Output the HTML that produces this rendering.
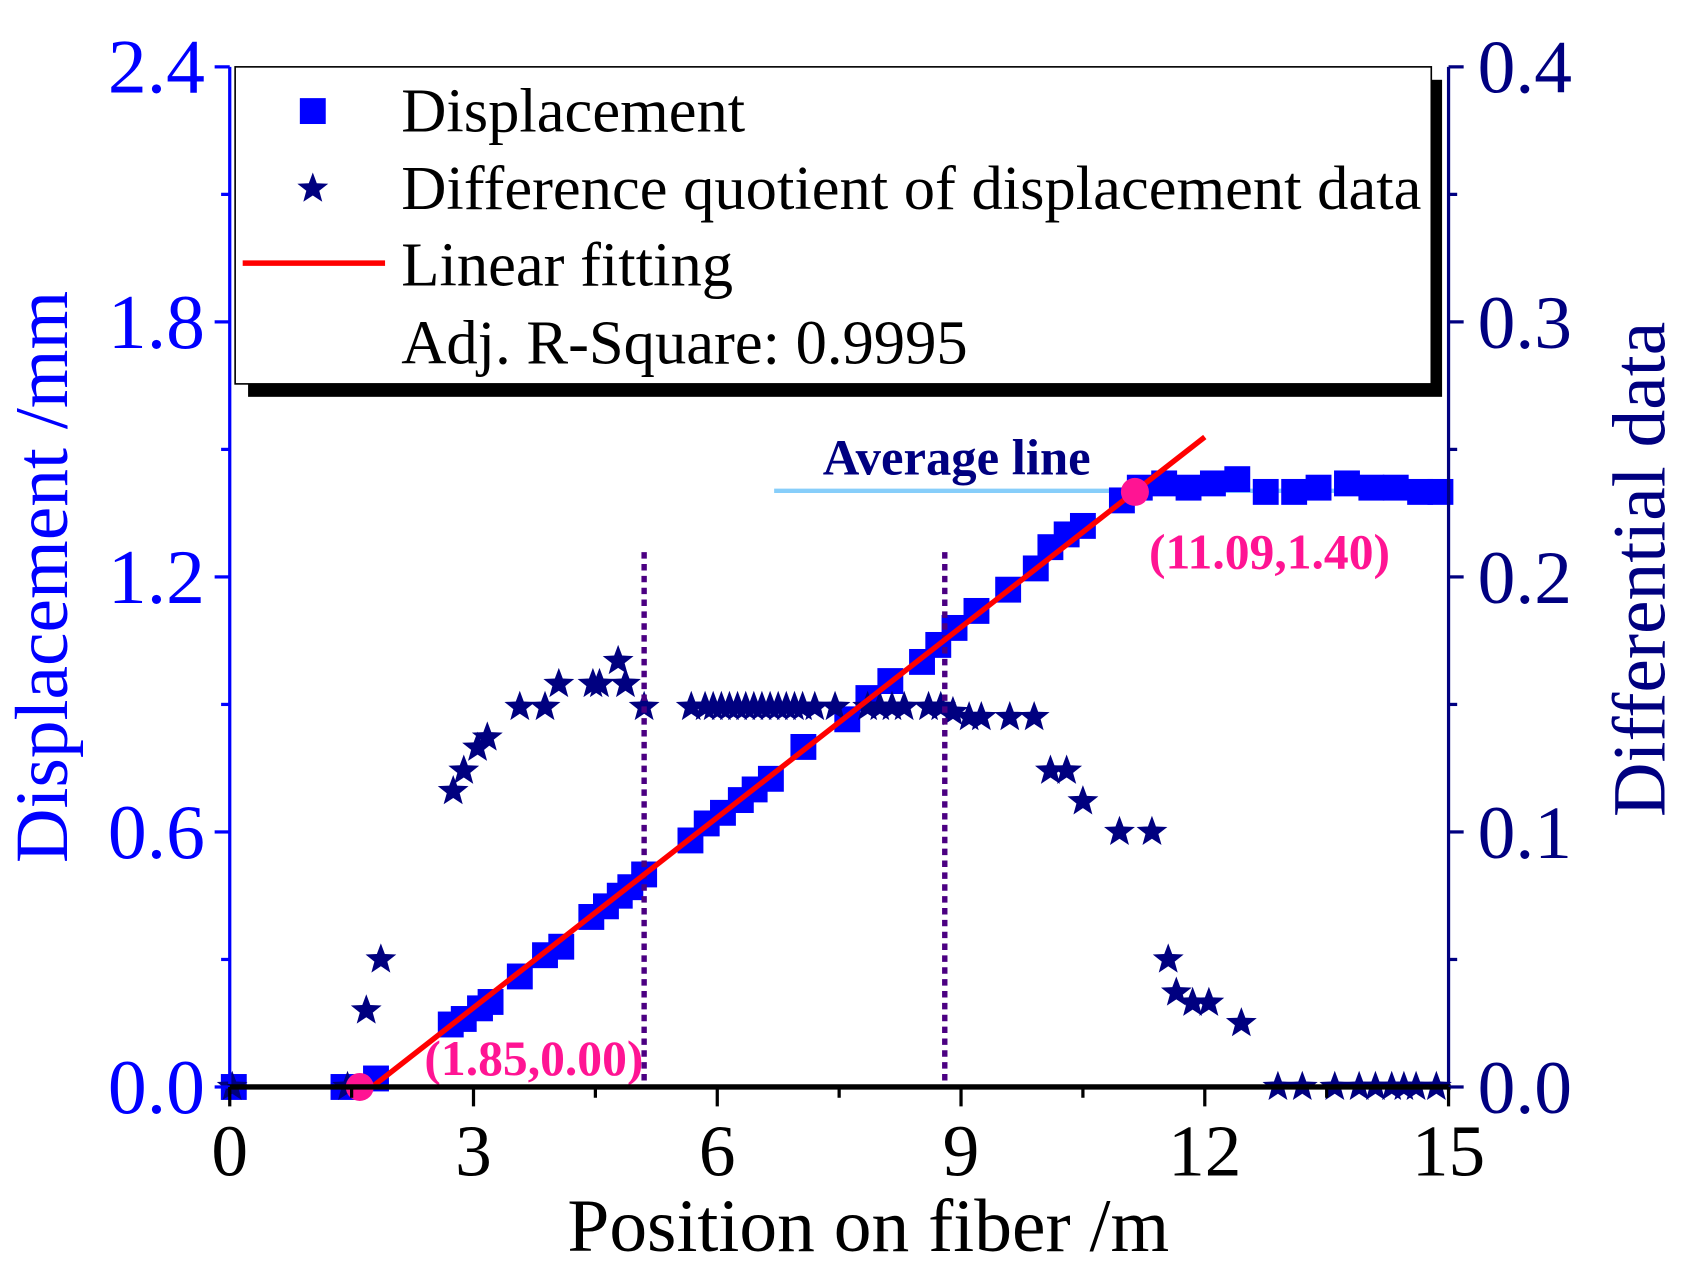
<!DOCTYPE html>
<html><head><meta charset="utf-8"><style>
html,body{margin:0;padding:0;background:#fff;}
svg{display:block;font-family:"Liberation Serif",serif;}
</style></head><body>
<svg id="chart" width="1688" height="1280" viewBox="0 0 1565 1187" preserveAspectRatio="none" xmlns="http://www.w3.org/2000/svg">
<g id="marks"></g>
<g id="axes"></g>
<g id="legend"></g>
</svg>
<script>
const dispX=[0.05,1.4,1.8,2.72,2.88,3.08,3.21,3.57,3.88,4.08,4.45,4.63,4.8,4.93,5.1,5.67,5.87,6.07,6.29,6.46,6.66,7.06,7.6,7.86,8.13,8.52,8.72,8.92,9.19,9.58,9.92,10.1,10.3,10.5,10.98,11.2,11.5,11.8,12.1,12.4,12.75,13.1,13.4,13.75,14.05,14.35,14.65,14.9];
const dispY=[0,0,0.02,0.147,0.16,0.185,0.2,0.26,0.31,0.33,0.4,0.425,0.45,0.47,0.5,0.58,0.62,0.645,0.675,0.7,0.725,0.8,0.865,0.915,0.955,1.0,1.04,1.08,1.12,1.17,1.22,1.27,1.3,1.32,1.38,1.41,1.42,1.41,1.42,1.43,1.40,1.40,1.41,1.42,1.41,1.41,1.40,1.40];
const diffX=[0.03,1.45,1.68,1.86,2.75,2.88,3.05,3.17,3.57,3.88,4.05,4.47,4.55,4.78,4.87,5.1,5.68,5.85,5.95,6.05,6.15,6.25,6.35,6.45,6.55,6.65,6.75,6.85,6.95,7.05,7.2,7.45,7.85,8.0,8.15,8.3,8.6,8.75,8.9,9.1,9.25,9.6,9.9,10.1,10.3,10.5,10.95,11.35,11.55,11.65,11.85,12.05,12.45,12.9,13.2,13.6,13.9,14.1,14.3,14.45,14.6,14.85];
const diffY=[0,0,0.03,0.05,0.116,0.124,0.133,0.137,0.149,0.149,0.158,0.158,0.158,0.167,0.158,0.149,0.149,0.149,0.149,0.149,0.149,0.149,0.149,0.149,0.149,0.149,0.149,0.149,0.149,0.149,0.149,0.149,0.149,0.149,0.149,0.149,0.149,0.149,0.147,0.145,0.145,0.145,0.145,0.124,0.124,0.112,0.1,0.1,0.05,0.037,0.033,0.033,0.025,0,0,0,0,0,0,0,0,0];
const fitRange=[1.75,12.0];
const fitSlope=[0.1492];
const fitPoints=[[1.6,0,"(1.85,0.00)"],[11.14,1.40,"(11.09,1.40)"]];
const avgLine=[6.7,15,1.40];
const vLines=[5.1,8.8];
const xTicks=[0,3,6,9,12,15];
const yTicks=[0,0.6,1.2,1.8,2.4];
const y2Ticks=[0,0.1,0.2,0.3,0.4];

const NS="http://www.w3.org/2000/svg";
const X0=213,X1=1343,Y0=1008,Y1=62;
const sx=v=>X0+(v-0)/15*(X1-X0);
const sy=v=>Y0-(v/2.4)*(Y0-Y1);
const sy2=v=>Y0-(v/0.4)*(Y0-Y1);
function mk(tag,attrs,parent){const e=document.createElementNS(NS,tag);for(const k in attrs)e.setAttribute(k,attrs[k]);parent.appendChild(e);return e;}
const marks=document.getElementById('marks'),axes=document.getElementById('axes'),leg=document.getElementById('legend');
function starPath(cx,cy,r){let d="";for(let i=0;i<10;i++){const a=-Math.PI/2+i*Math.PI/5;const rr=i%2?r*0.42:r;d+=(i?"L":"M")+(cx+rr*Math.cos(a)).toFixed(1)+","+(cy+rr*Math.sin(a)).toFixed(1);}return d+"Z";}

let al=mk('line',{x1:sx(avgLine[0]),x2:sx(avgLine[1]),y1:sy(avgLine[2])-1,y2:sy(avgLine[2])-1,stroke:'#87CEFA','stroke-width':4},marks);


let at=mk('text',{x:887,y:440,'text-anchor':'middle','font-size':47,'font-weight':'bold',fill:'#000080'},marks);at.textContent="Average line";


dispX.forEach((x,i)=>{const r=mk('rect',{x:sx(x)-12,y:sy(dispY[i])-12,width:24,height:24,fill:'#0000FF'},marks);

});
diffX.forEach((x,i)=>{const p=mk('path',{d:starPath(sx(x),sy2(diffY[i]),15),fill:'#000080'},marks);

});
vLines.forEach(v=>{const l=mk('line',{x1:sx(v),x2:sx(v),y1:512,y2:1005,stroke:'#4B0082','stroke-width':5,'stroke-dasharray':'6,5'},marks);

});
const fl=mk('line',{x1:sx(fitRange[0]),y1:sy(0),x2:sx(fitRange[1]),y2:sy(fitSlope[0]*(fitRange[1]-fitRange[0])),stroke:'#FF0000','stroke-width':5},marks);


fitPoints.forEach((p,i)=>{const c=mk('circle',{cx:sx(p[0]),cy:sy(p[1]),r:13,fill:'#FF1493'},marks);


const t=mk('text',{x:i?1177:495,y:i?527:997,'text-anchor':'middle','font-size':46,'font-weight':'bold',fill:'#FF1493'},marks);t.textContent=p[2];

});

mk('line',{x1:X0,x2:X0,y1:Y1,y2:Y0+3,stroke:'#0000FF','stroke-width':3},axes);
mk('line',{x1:X1,x2:X1,y1:Y1,y2:Y0+3,stroke:'#000080','stroke-width':3},axes);
mk('line',{x1:X0-2,x2:X1+2,y1:Y0,y2:Y0,stroke:'#000','stroke-width':5},axes);
yTicks.forEach((v,i)=>{mk('line',{x1:X0-14,x2:X0,y1:sy(v),y2:sy(v),stroke:'#0000FF','stroke-width':3},axes);
if(i<yTicks.length-1)mk('line',{x1:X0-8,x2:X0,y1:sy(v+0.3),y2:sy(v+0.3),stroke:'#0000FF','stroke-width':3},axes);
const t=mk('text',{x:190,y:sy(v)+24,'text-anchor':'end','font-size':72,fill:'#0000FF'},axes);t.textContent=v.toFixed(1);

});
y2Ticks.forEach((v,i)=>{mk('line',{x1:X1,x2:X1+14,y1:sy2(v),y2:sy2(v),stroke:'#000080','stroke-width':3},axes);
if(i<y2Ticks.length-1)mk('line',{x1:X1,x2:X1+8,y1:sy2(v+0.05),y2:sy2(v+0.05),stroke:'#000080','stroke-width':3},axes);
const t=mk('text',{x:1370,y:sy2(v)+24,'text-anchor':'start','font-size':70,fill:'#000080'},axes);t.textContent=v.toFixed(1);

});
xTicks.forEach((v,i)=>{mk('line',{x1:sx(v),x2:sx(v),y1:Y0,y2:Y0+18,stroke:'#000','stroke-width':3},axes);
if(i<xTicks.length-1)mk('line',{x1:sx(v+1.5),x2:sx(v+1.5),y1:Y0,y2:Y0+10,stroke:'#000','stroke-width':3},axes);
const t=mk('text',{x:sx(v),y:1090,'text-anchor':'middle','font-size':68,fill:'#000'},axes);t.textContent=v;

});
let xt=mk('text',{x:805,y:1160,'text-anchor':'middle','font-size':70,fill:'#000'},axes);xt.textContent="Position on fiber /m";


let yt=mk('text',{x:0,y:0,'text-anchor':'middle','font-size':70,fill:'#0000FF',transform:'translate(62,535) rotate(-90)'},axes);yt.textContent="Displacement /mm";


let y2t=mk('text',{x:0,y:0,'text-anchor':'middle','font-size':70,fill:'#000080',transform:'translate(1543,528) rotate(-90)'},axes);y2t.textContent="Differential data";



mk('rect',{x:230,y:74,width:1107,height:294,fill:'#000'},leg);
mk('rect',{x:218,y:62,width:1109,height:294,fill:'#fff',stroke:'#000','stroke-width':1.5},leg);
mk('rect',{x:278,y:91,width:24,height:24,fill:'#0000FF'},leg);
mk('path',{d:starPath(290,175,15),fill:'#000080'},leg);
mk('line',{x1:225,x2:357,y1:244,y2:244,stroke:'#FF0000','stroke-width':5},leg);
[["Displacement",122],["Difference quotient of displacement data",194],["Linear fitting",265],["Adj. R-Square: 0.9995",337]].forEach(a=>{
const t=mk('text',{x:372,y:a[1],'font-size':58,fill:'#000'},leg);t.textContent=a[0];

});
</script>
</body></html>
